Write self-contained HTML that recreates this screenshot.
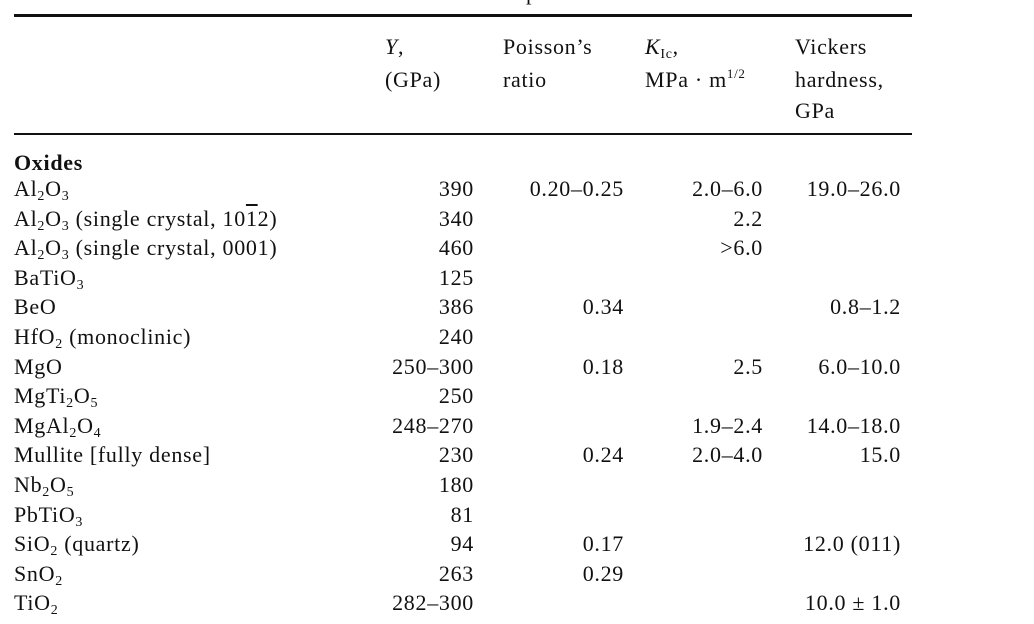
<!DOCTYPE html>
<html><head><meta charset="utf-8"><style>
body{margin:0;width:1034px;height:624px;background:#fff;overflow:hidden;position:relative;font-family:"Liberation Serif",serif;color:#111}
.t{position:absolute;font-size:22px;line-height:22px;letter-spacing:0.7px;white-space:nowrap}
.r{text-align:right}
sub{font-size:14px;vertical-align:-4px;line-height:0}
sup{font-size:13px;vertical-align:9px;line-height:0}
.rule{position:absolute;left:14px;width:898px;background:#111}
</style></head><body>
<div class="t" style="left:526px;top:-18px">p</div>
<div class="rule" style="top:14px;height:3px"></div>
<div class="rule" style="top:133px;height:2px"></div>

<div>
<div class="t" style="left:385px;top:36px"><i>Y</i>,</div>
<div class="t" style="left:385px;top:69px">(GPa)</div></div>
<div>
<div class="t" style="left:503px;top:36px">Poisson’s</div>
<div class="t" style="left:503px;top:69px">ratio</div></div>
<div>
<div class="t" style="left:645px;top:36px"><i>K</i><sub>Ic</sub>,</div>
<div class="t" style="left:645px;top:69px">MPa · m<sup>1/2</sup></div></div>
<div>
<div class="t" style="left:795px;top:36px">Vickers</div>
<div class="t" style="left:795px;top:69px">hardness,</div>
<div class="t" style="left:795px;top:100px">GPa</div></div>

<div class="t" style="left:14px;top:152px;font-weight:bold">Oxides</div>
<div id="rows"></div>
<script>
const names=['Al<sub>2</sub>O<sub>3</sub>','Al<sub>2</sub>O<sub>3</sub> (single crystal, 10<span style="text-decoration:overline">1</span>2)','Al<sub>2</sub>O<sub>3</sub> (single crystal, 0001)','BaTiO<sub>3</sub>','BeO','HfO<sub>2</sub> (monoclinic)','MgO','MgTi<sub>2</sub>O<sub>5</sub>','MgAl<sub>2</sub>O<sub>4</sub>','Mullite [fully dense]','Nb<sub>2</sub>O<sub>5</sub>','PbTiO<sub>3</sub>','SiO<sub>2</sub> (quartz)','SnO<sub>2</sub>','TiO<sub>2</sub>'];
const youngs=['390','340','460','125','386','240','250–300','250','248–270','230','180','81','94','263','282–300'];
const poisson=['0.20–0.25','','','','0.34','','0.18','','','0.24','','','0.17','0.29',''];
const kic=['2.0–6.0','2.2','>6.0','','','','2.5','','1.9–2.4','2.0–4.0','','','','',''];
const vickers=['19.0–26.0','','','','0.8–1.2','','6.0–10.0','','14.0–18.0','15.0','','','12.0 (011)','','10.0 ± 1.0'];
const cols=[[youngs,474],[poisson,624],[kic,763],[vickers,901]];
const c=document.getElementById('rows');
names.forEach((n,i)=>{
  const top=178+i*29.6;
  const row=document.createElement('div');
  
  
  const a=document.createElement('div');a.className='t';a.style.left='14px';a.style.top=top+'px';a.innerHTML=n;
  
  
  row.appendChild(a);
  cols.forEach(([arr,right])=>{
    if(!arr[i])return;
    const d=document.createElement('div');d.className='t r';
    d.style.right=(1034-right)+'px';d.style.top=top+'px';d.textContent=arr[i];
    
    
    row.appendChild(d);
  });
  c.appendChild(row);
});
</script>
</body></html>
